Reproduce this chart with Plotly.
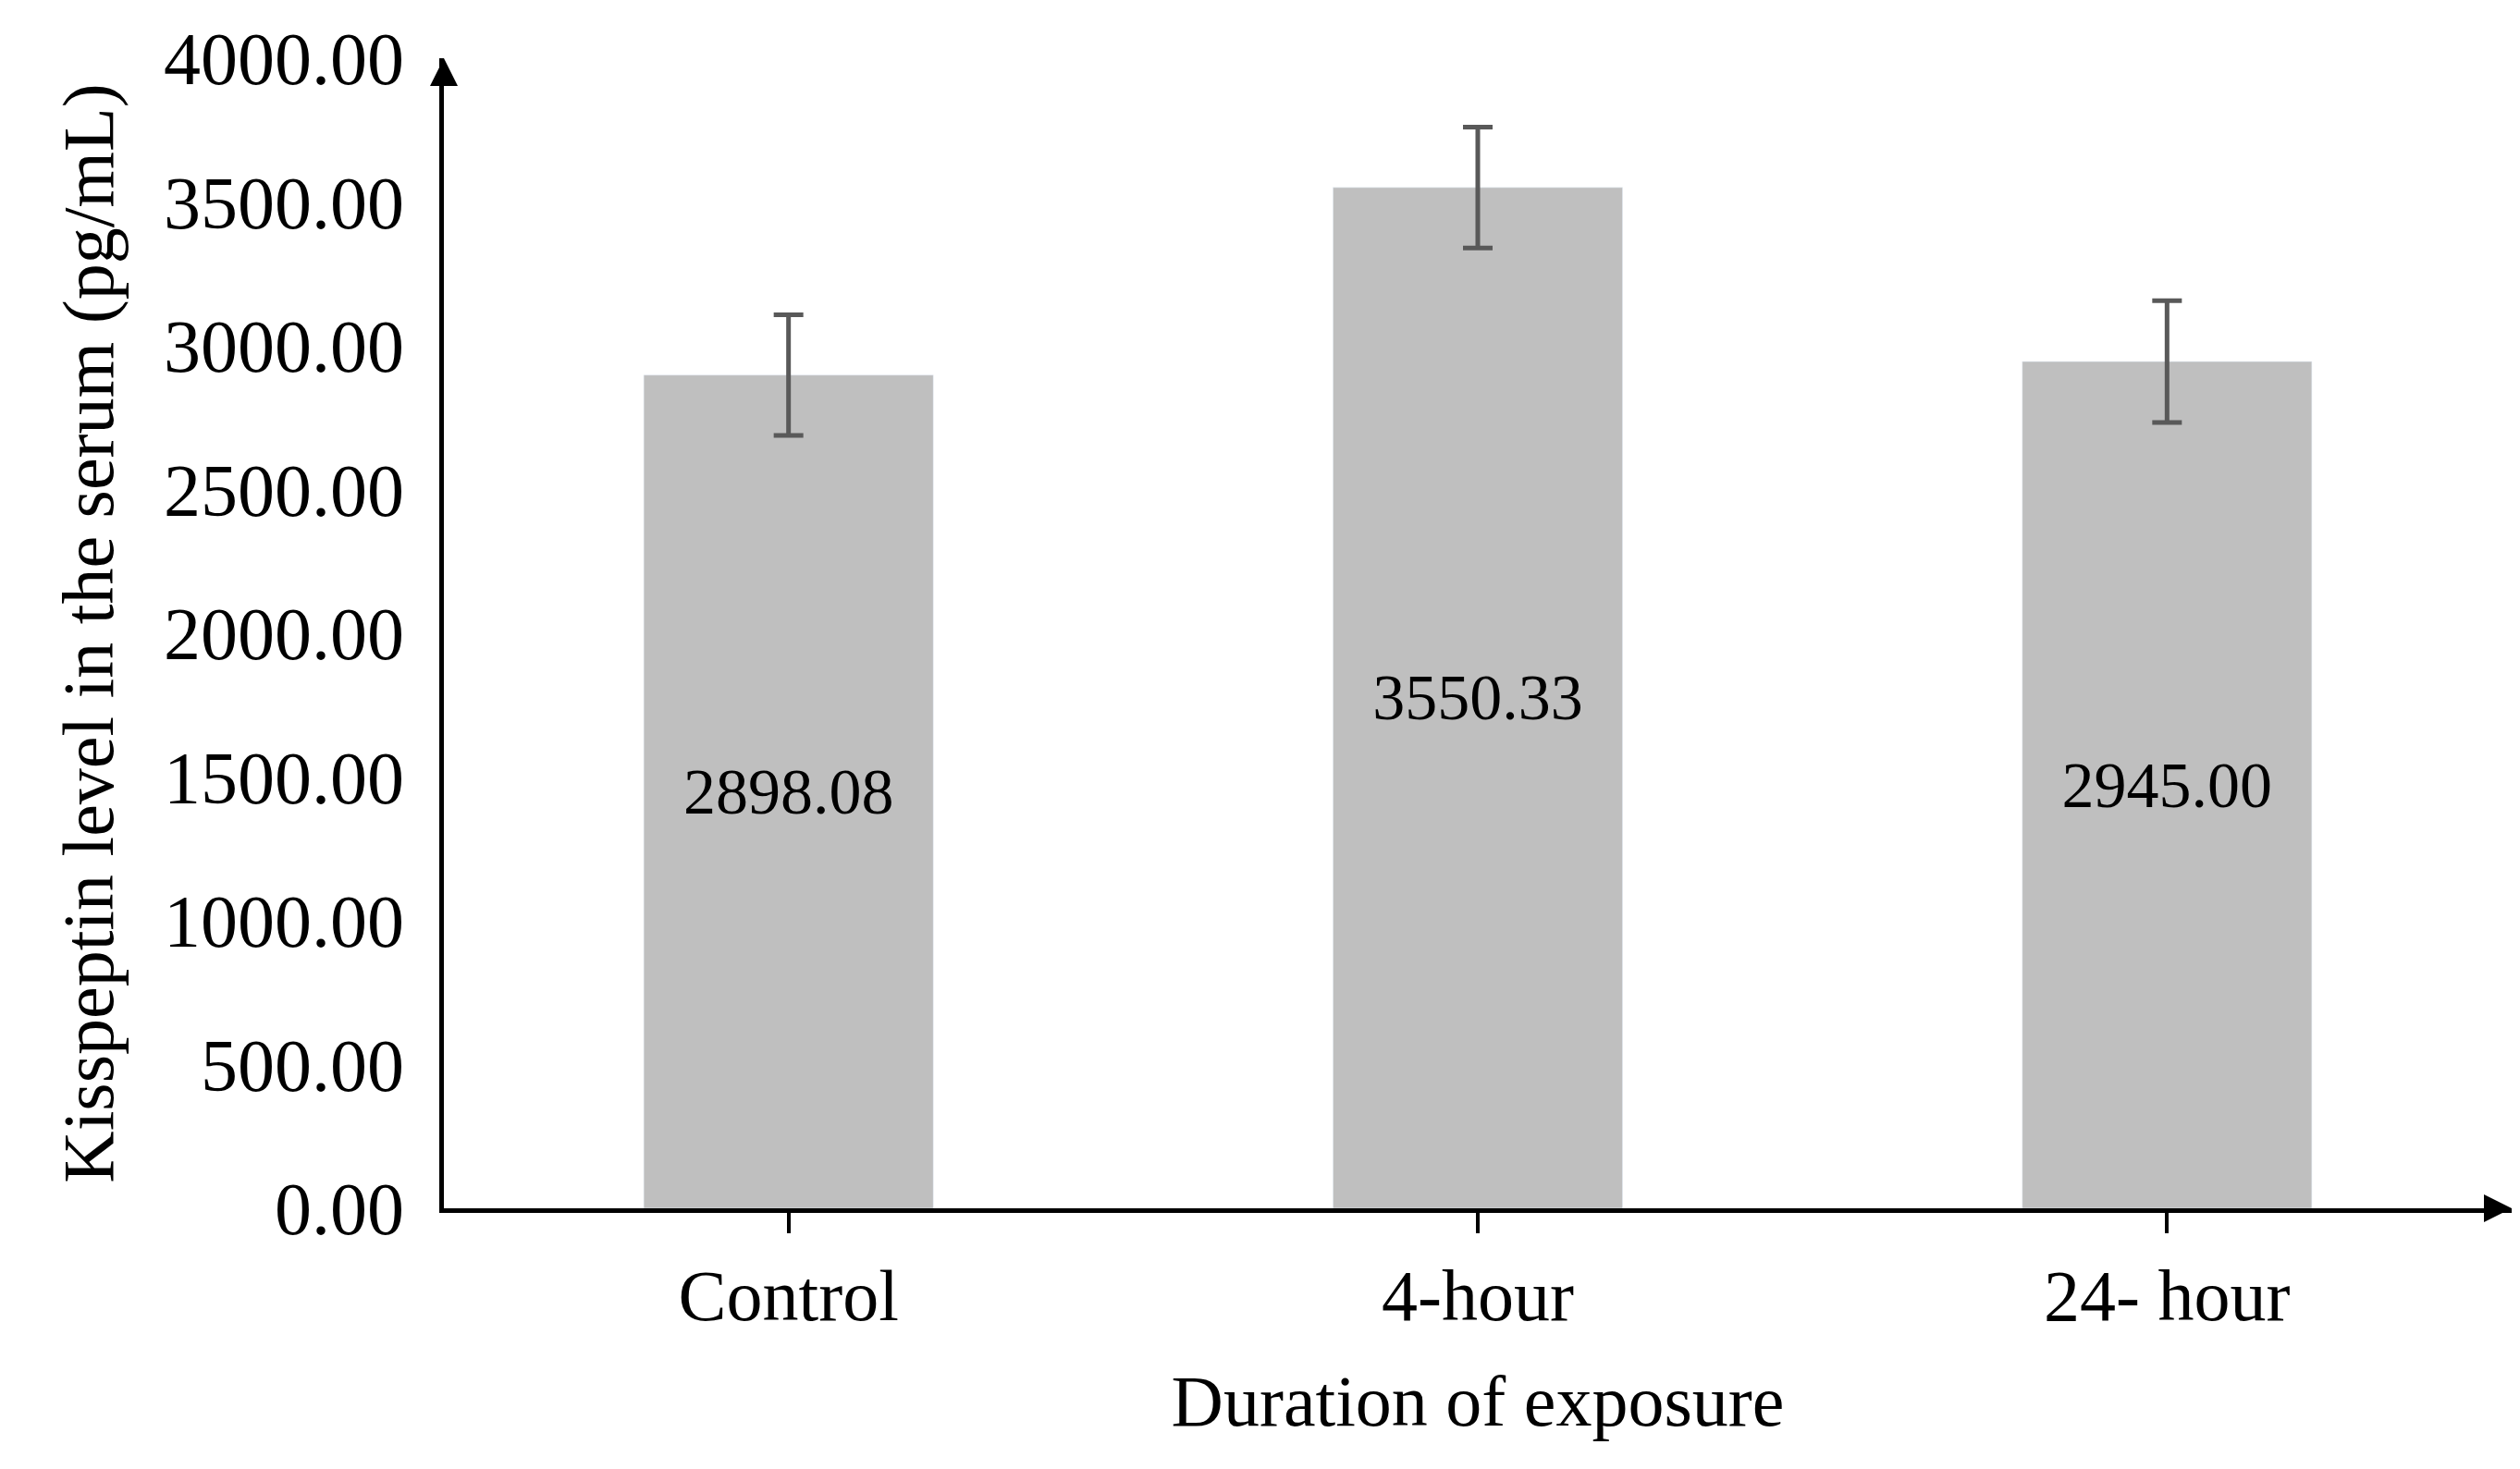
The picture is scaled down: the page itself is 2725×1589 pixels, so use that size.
import plotly.graph_objects as go

groups = ["Control", "4-hour", "24- hour"]
kisspeptin = [2898.08, 3550.33, 2945.00]
errors = [210, 210, 212]
labels = ["2898.08", "3550.33", "2945.00"]

font_family = "Liberation Serif, DejaVu Serif, serif"

fig = go.Figure()
fig.add_trace(go.Bar(
    x=groups, y=kisspeptin,
    marker_color="#bfbfbf",
    width=0.42,
    text=labels, textposition="inside", insidetextanchor="middle",
    textfont=dict(family=font_family, size=70, color="black"),
    error_y=dict(type="data", array=errors, color="#595959", thickness=5, width=16),
))

fig.update_layout(
    width=2725, height=1589,
    plot_bgcolor="white", paper_bgcolor="white",
    margin=dict(l=472, r=17, t=55, b=290),
    showlegend=False,
    font=dict(family=font_family, size=80, color="black"),
    xaxis=dict(
        range=[-0.5, 2.5], showline=True, linecolor="black", linewidth=5,
        ticks="outside", ticklen=22, tickwidth=4, tickcolor="black",
        title=dict(text="Duration of exposure", standoff=45, font=dict(size=78)),
        tickfont=dict(size=78),
    ),
    yaxis=dict(
        range=[0, 4000], tickvals=[0, 500, 1000, 1500, 2000, 2500, 3000, 3500, 4000],
        tickformat=".2f", showline=True, linecolor="black", linewidth=5,
        showgrid=False, ticks="", ticklabelstandoff=22, tickfont=dict(size=80),
        title=dict(text="Kisspeptin level in the serum (pg/mL)", standoff=30, font=dict(size=78)),
    ),
)

# arrow heads at the axis ends
fig.add_annotation(x=0, y=1.0, xref="paper", yref="paper", ax=0, ay=30,
                   showarrow=True, arrowhead=2, arrowsize=1.2, arrowwidth=5,
                   arrowcolor="black", text="")
fig.add_annotation(x=1.0, y=0, xref="paper", yref="paper", ax=-30, ay=0,
                   showarrow=True, arrowhead=2, arrowsize=1.2, arrowwidth=5,
                   arrowcolor="black", text="")

fig.write_html("out.html")
